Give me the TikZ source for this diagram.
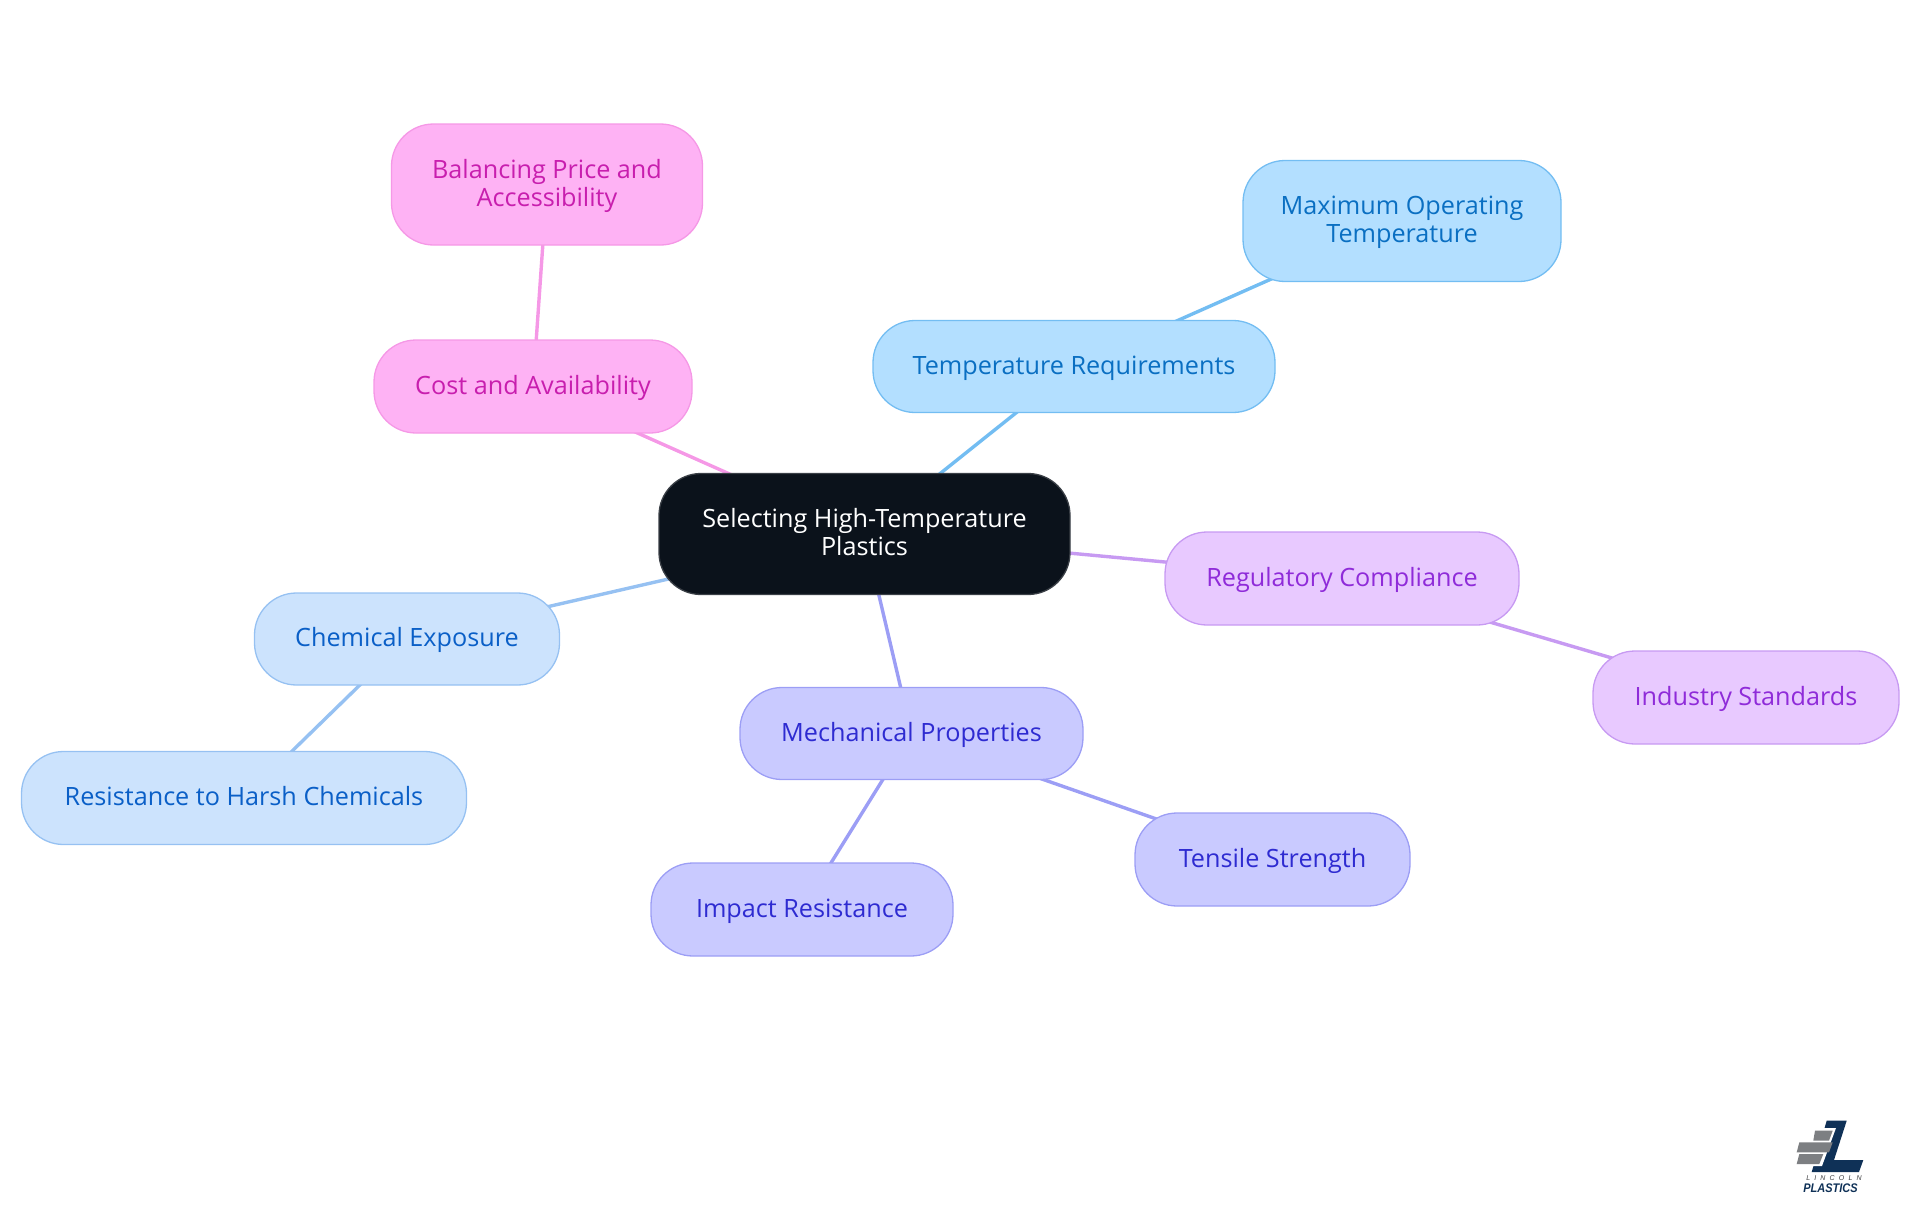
\documentclass[tikz,border=0pt]{standalone}
\usepackage{fontspec}
\setmainfont{Open Sans}
\newfontfamily\logofont{Liberation Sans}
\usetikzlibrary{backgrounds}
\definecolor{rootfill}{HTML}{0B121B}
\definecolor{rootline}{HTML}{3A3F46}
\definecolor{pinkfill}{HTML}{FEB2F4}
\definecolor{pinkline}{HTML}{F598E6}
\definecolor{pinktext}{HTML}{C81EAE}
\definecolor{skyfill}{HTML}{B3DFFF}
\definecolor{skyline}{HTML}{73BDF2}
\definecolor{skytext}{HTML}{0A6FC2}
\definecolor{bluefill}{HTML}{CCE3FD}
\definecolor{blueline}{HTML}{96C1F2}
\definecolor{bluetext}{HTML}{0A5FC7}
\definecolor{indigofill}{HTML}{C9CAFF}
\definecolor{indigoline}{HTML}{9C9EF5}
\definecolor{indigotext}{HTML}{2E2BD1}
\definecolor{purplefill}{HTML}{E8C9FF}
\definecolor{purpleline}{HTML}{C79AF2}
\definecolor{purpletext}{HTML}{8F2BD9}
\definecolor{logonavy}{HTML}{0F3157}
\definecolor{logogray}{HTML}{7D7F82}
\tikzset{
	mapbox/.style={rounded corners=42pt, line width=1.3pt, align=center, inner sep=0pt,
		text height=21pt, text depth=5.6pt, font=\fontsize{25.2}{28}\selectfont},
	twolines/.style={text height=49pt},
	rootbox/.style={mapbox, fill=rootfill, draw=rootline, text=white},
	pinkbox/.style={mapbox, fill=pinkfill, draw=pinkline, text=pinktext},
	skybox/.style={mapbox, fill=skyfill, draw=skyline, text=skytext},
	bluebox/.style={mapbox, fill=bluefill, draw=blueline, text=bluetext},
	indigobox/.style={mapbox, fill=indigofill, draw=indigoline, text=indigotext},
	purplebox/.style={mapbox, fill=purplefill, draw=purpleline, text=purpletext}
}
\begin{document}
\begin{tikzpicture}[x=1pt, y=-1pt]
	\useasboundingbox (0,0) rectangle (1920,1215);
	\node[rootbox, twolines, minimum width=411, minimum height=121] (root) at (864.5,534) {Selecting High-Temperature\\Plastics};
	\node[pinkbox, minimum width=318, minimum height=93] (cost) at (533,386.5) {Cost and Availability};
	\node[pinkbox, twolines, minimum width=311, minimum height=121] (price) at (547,184.5) {Balancing Price and\\Accessibility};
	\node[skybox, minimum width=402, minimum height=92] (temp) at (1074,366.5) {Temperature Requirements};
	\node[skybox, twolines, minimum width=318, minimum height=121] (maxtemp) at (1402,221) {Maximum Operating\\Temperature};
	\node[purplebox, minimum width=354, minimum height=93] (reg) at (1342,578.5) {Regulatory Compliance};
	\node[purplebox, minimum width=306, minimum height=93] (standards) at (1746,697.5) {Industry Standards};
	\node[indigobox, minimum width=343, minimum height=92] (mech) at (911.5,733.5) {Mechanical Properties};
	\node[indigobox, minimum width=275, minimum height=93] (tensile) at (1272.5,859.5) {Tensile Strength};
	\node[indigobox, minimum width=302, minimum height=93] (impact) at (802,909.5) {Impact Resistance};
	\node[bluebox, minimum width=305, minimum height=92] (chem) at (407,639) {Chemical Exposure};
	\node[bluebox, minimum width=445, minimum height=93] (harsh) at (244,798) {Resistance to Harsh Chemicals};
	\begin{scope}[on background layer]
		\foreach \a/\b/\c in {root/cost/pinkline, cost/price/pinkline, root/temp/skyline, temp/maxtemp/skyline,
			root/reg/purpleline, reg/standards/purpleline, root/mech/indigoline, mech/tensile/indigoline,
			mech/impact/indigoline, root/chem/blueline, chem/harsh/blueline}
			\draw[\c, line width=3.4pt] (\a.center) -- (\b.center);
	\end{scope}
	% logo
	\fill[logonavy] (1826.7,1120.7) -- (1846.7,1120.7) -- (1834,1160) -- (1863.3,1160) -- (1859,1172) -- (1811.7,1172) -- cycle;
	\fill[white] (1814,1128) -- (1836,1128) -- (1822,1166) -- (1792,1166) -- (1792,1141) -- (1812,1141) -- cycle;
	\fill[logogray] (1815,1130.7) -- (1832.7,1130.7) -- (1829,1140.7) -- (1813.3,1140.7) -- cycle;
	\fill[logogray] (1799.3,1142.3) -- (1832.7,1142.3) -- (1829,1152.3) -- (1796.7,1152.3) -- cycle;
	\fill[logogray] (1799.3,1154) -- (1823.3,1154) -- (1819.3,1164) -- (1796.7,1164) -- cycle;
	\node[inner sep=0pt, text=logogray!50!black, font=\logofont\itshape\fontsize{7}{8}\selectfont\addfontfeature{LetterSpace=60}] (lincoln) at (1834,1178.5) {LINCOLN};
	\node[inner sep=0pt, text=logonavy, xscale=.88, font=\logofont\bfseries\itshape\fontsize{12.5}{13}\selectfont] (plastics) at (1830.5,1188.5) {PLASTICS};
\end{tikzpicture}
\end{document}
